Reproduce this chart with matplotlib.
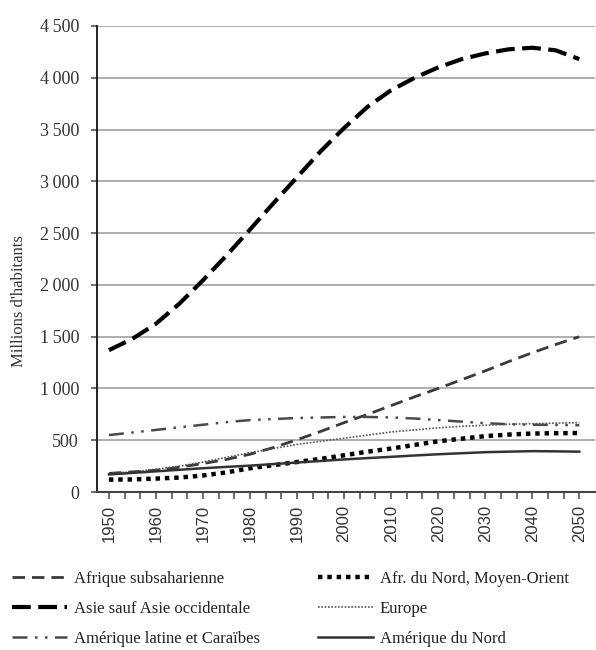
import matplotlib.pyplot as plt
from matplotlib.ticker import MultipleLocator, FuncFormatter
import numpy as np

SerifFont = 'Liberation Serif'
SansFont = 'Liberation Sans'

# Values (millions), one point every 5 years
years = list(range(1950, 2051, 5))

afrique_sub = [180, 195, 210, 240, 275, 315, 365, 430, 505, 585, 670,
               750, 835, 920, 1000, 1085, 1170, 1260, 1345, 1425, 1500]
asie = [1370, 1480, 1625, 1820, 2045, 2285, 2535, 2790, 3040, 3290, 3515,
        3720, 3880, 4000, 4100, 4180, 4235, 4275, 4290, 4265, 4180]
amerique_latine = [550, 575, 600, 625, 650, 675, 695, 705, 715, 720, 725,
                   725, 720, 710, 695, 680, 665, 655, 650, 648, 645]
afr_nord = [120, 122, 130, 140, 160, 190, 230, 260, 290, 320, 355,
            390, 420, 455, 490, 515, 540, 555, 565, 568, 570]
europe = [180, 195, 220, 250, 290, 335, 380, 420, 460, 490, 520,
          550, 580, 600, 620, 635, 645, 655, 660, 665, 670]
amerique_nord = [170, 185, 200, 215, 230, 243, 255, 270, 285, 300, 315,
                 328, 340, 353, 365, 375, 385, 390, 395, 393, 390]

yticks = [0, 500, 1000, 1500, 2000, 2500, 3000, 3500, 4000, 4500]

fig = plt.figure(figsize=(5.96, 6.5), dpi=100)
ax = fig.add_axes([0.163, 0.243, 0.835, 0.717])

ax.set_axisbelow(True)
for y in yticks[1:]:
    ax.axhline(y, color='#a8a8a8', linewidth=1.3, zorder=0)

# the six regions
l_afr_sub, = ax.plot(years, afrique_sub, color='#3a3a3a', linewidth=2.0,
                     linestyle=(0, (4.5, 2.5)), label='Afrique subsaharienne')
l_asie, = ax.plot(years, asie, color='black', linewidth=3.0,
                  linestyle=(0, (4.5, 1.8)), label='Asie sauf Asie occidentale')
l_latine, = ax.plot(years, amerique_latine, color='#4a4a4a', linewidth=1.8,
                    linestyle=(0, (6, 3, 1, 3, 1, 3)),
                    label='Amérique latine et Caraïbes')
l_afr_nord, = ax.plot(years, afr_nord, color='black', linewidth=3.2,
                      linestyle=(0, (1, 1.1)), label='Afr. du Nord, Moyen-Orient')
l_europe, = ax.plot(years, europe, color='#555555', linewidth=1.2,
                    linestyle=(0, (1, 1)), label='Europe')
l_nord, = ax.plot(years, amerique_nord, color='#333333', linewidth=1.8,
                  linestyle='-', label='Amérique du Nord')

ax.set_xlim(1947.5, 2053.3)
ax.set_ylim(0, 4500)

ax.set_yticks(yticks)
ax.yaxis.set_major_formatter(FuncFormatter(lambda v, p: f'{int(v):,}'.replace(',', '\u2009')))
ax.xaxis.set_major_locator(MultipleLocator(10))
ax.xaxis.set_minor_locator(MultipleLocator(10 / 3))

for s in ['top', 'right']:
    ax.spines[s].set_visible(False)
ax.spines['left'].set_color('#222222')
ax.spines['left'].set_linewidth(1.4)
ax.spines['bottom'].set_color('#444444')
ax.spines['bottom'].set_linewidth(1.5)

ax.tick_params(axis='y', which='major', length=4, width=1.2, color='#555555',
               labelsize=13, pad=9)
ax.tick_params(axis='x', which='both', length=5, width=1.2, color='#555555',
               direction='out')
ax.tick_params(axis='x', which='major', labelsize=12, labelrotation=90, pad=4)
for lab in ax.get_yticklabels():
    lab.set_fontfamily(SerifFont)
    lab.set_color('#333333')
for lab in ax.get_xticklabels():
    lab.set_fontfamily(SansFont)
    lab.set_color('#333333')

ax.set_ylabel("Millions d'habitants", fontsize=12, fontfamily=SerifFont,
              color='#333333')
ax.yaxis.set_label_coords(-0.14, 0.41)

handles = [l_afr_sub, l_asie, l_latine, l_afr_nord, l_europe, l_nord]
fig.legend(handles=handles, labels=[h.get_label() for h in handles],
           ncol=2, loc='upper left', bbox_to_anchor=(-0.005, 0.145),
           frameon=False, prop={'family': SerifFont, 'size': 12},
           handlelength=3.3, handletextpad=0.4, columnspacing=3.5,
           labelspacing=0.85, labelcolor='#222222')

fig.savefig('out.png', dpi=100)
